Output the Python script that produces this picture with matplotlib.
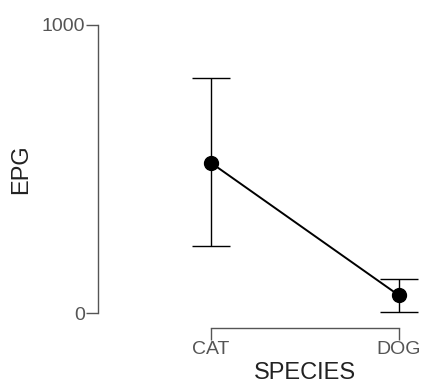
import matplotlib
matplotlib.use("Agg")
import matplotlib.pyplot as plt

categories = ["CAT", "DOG"]
means = [521, 61]
lower = [233, 5]
upper = [815, 118]
yticks = [0, 1000]

W, H = 421, 383
fig = plt.figure(figsize=(W / 100, H / 100), dpi=100)
plt.rcParams['font.family'] = ['Liberation Sans', 'DejaVu Sans']

# axes pixel geometry
left_px, right_px = 98, 421
top_px, bottom_px = 24.7, 328
ax = fig.add_axes([left_px / W, (H - bottom_px) / H, (right_px - left_px) / W, (bottom_px - top_px) / H])

x = list(range(len(categories)))
yerr = [[m - l for m, l in zip(means, lower)], [u - m for m, u in zip(means, upper)]]
ax.errorbar(x, means, yerr=yerr, fmt='none', ecolor='black', elinewidth=1.0, capsize=13.7, capthick=1.0)
ax.plot(x, means, color='black', lw=1.4, marker='o', markersize=10, zorder=3)

ax.set_xlim(-0.601, -0.601 + (right_px - left_px) / 188)
ax.set_ylim(-52, 1000)

for s in ['top', 'right']:
    ax.spines[s].set_visible(False)
gray = '#555555'
ax.spines['left'].set_bounds(0, 1000)
ax.spines['bottom'].set_bounds(0, 1)
for s in ['left', 'bottom']:
    ax.spines[s].set_color(gray)
    ax.spines[s].set_linewidth(1.0)

ax.set_xticks(x)
ax.set_xticklabels(categories)
ax.set_yticks(yticks)
ax.set_yticklabels([str(t) for t in yticks])
ax.tick_params(axis='both', direction='out', length=8.5, width=1.0, color=gray,
               labelcolor='#555555', labelsize=14, pad=1)

ax.set_xlabel("SPECIES", fontsize=17, color='#222222')
ax.set_ylabel("EPG", fontsize=17, color='#222222')
# centre labels on the spine extents
xc = (305 - left_px) / (right_px - left_px)
ax.xaxis.set_label_coords(xc, -(373 - bottom_px) / (bottom_px - top_px), transform=ax.transAxes)
ax.xaxis.label.set_va('center')
yc = (bottom_px - 169) / (bottom_px - top_px)
ax.yaxis.set_label_coords(-(left_px - 21) / (right_px - left_px), yc, transform=ax.transAxes)
ax.yaxis.label.set_va('center')

fig.savefig("out.png", dpi=100)
